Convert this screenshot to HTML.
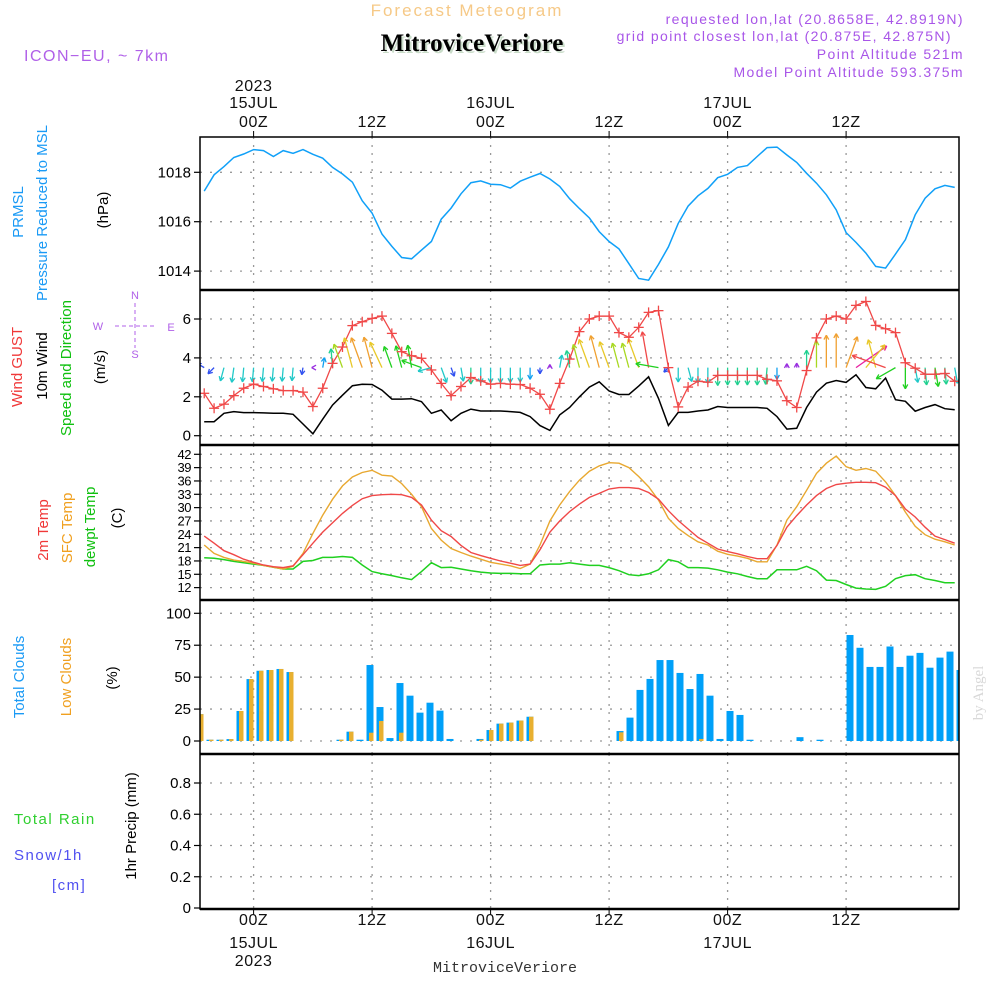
<!DOCTYPE html>
<html><head><meta charset="utf-8"><style>
html,body{margin:0;padding:0;background:#fff;}
svg{display:block;font-family:"Liberation Sans",sans-serif;}
</style></head><body>
<svg id="chart" width="1000" height="1000" viewBox="0 0 1000 1000" xmlns="http://www.w3.org/2000/svg">
<rect x="0" y="0" width="1000" height="1000" fill="#fff"/>
<text x="467" y="16" text-anchor="middle" font-size="17" letter-spacing="2" fill="#f6c987">Forecast Meteogram</text>
<text x="472" y="51" text-anchor="middle" font-size="25" font-weight="bold" font-family="Liberation Serif,serif" fill="#c9dcc9" transform="translate(2,2)">MitroviceVeriore</text>
<text x="472" y="51" text-anchor="middle" font-size="25" font-weight="bold" font-family="Liberation Serif,serif" fill="#000">MitroviceVeriore</text>
<text x="24" y="61" font-size="16" letter-spacing="1.5" fill="#b060e8">ICON−EU, ~ 7km</text>
<g font-size="14" letter-spacing="1.4" fill="#a855e8" text-anchor="end">
<text x="964" y="24">requested lon,lat (20.8658E, 42.8919N)</text>
<text x="952" y="41">grid point closest lon,lat (20.875E, 42.875N)</text>
<text x="964" y="59">Point Altitude 521m</text>
<text x="964" y="77">Model Point Altitude 593.375m</text>
</g>
<g font-size="15">
<text transform="translate(23,212) rotate(-90)" text-anchor="middle" fill="#1a9af5">PRMSL</text>
<text transform="translate(47,213) rotate(-90)" text-anchor="middle" fill="#1a9af5">Pressure Reduced to MSL</text>
<text transform="translate(108,210) rotate(-90)" text-anchor="middle" fill="#000">(hPa)</text>
<text transform="translate(22,367) rotate(-90)" text-anchor="middle" fill="#f03838">Wind GUST</text>
<text transform="translate(47,366) rotate(-90)" text-anchor="middle" fill="#000">10m Wind</text>
<text transform="translate(71,368) rotate(-90)" text-anchor="middle" fill="#10c010">Speed and Direction</text>
<text transform="translate(105,367) rotate(-90)" text-anchor="middle" fill="#000">(m/s)</text>
<text transform="translate(48,530) rotate(-90)" text-anchor="middle" fill="#f03838">2m Temp</text>
<text transform="translate(72,528) rotate(-90)" text-anchor="middle" fill="#f0a020">SFC Temp</text>
<text transform="translate(95,527) rotate(-90)" text-anchor="middle" fill="#10c010">dewpt Temp</text>
<text transform="translate(122,518) rotate(-90)" text-anchor="middle" fill="#000">(C)</text>
<text transform="translate(24,677) rotate(-90)" text-anchor="middle" fill="#1a9af5">Total Clouds</text>
<text transform="translate(71,677) rotate(-90)" text-anchor="middle" fill="#f0a020">Low Clouds</text>
<text transform="translate(117,678) rotate(-90)" text-anchor="middle" fill="#000">(%)</text>
<text transform="translate(136,826) rotate(-90)" text-anchor="middle" fill="#000">1hr Precip (mm)</text>
<text x="14" y="824" fill="#30d030" letter-spacing="1.5">Total  Rain</text>
<text x="14" y="860" fill="#5050f0" letter-spacing="1.5">Snow/1h</text>
<text x="52" y="890" fill="#5050f0" letter-spacing="1.5">[cm]</text>
</g>
<g fill="#b060e8" font-size="11" text-anchor="middle">
<text x="135" y="299">N</text>
<text x="98" y="330">W</text><text x="171" y="331">E</text>
<text x="135" y="358">S</text>
<line x1="135" y1="303" x2="135" y2="348" stroke="#b060e8" stroke-dasharray="4,3"/>
<line x1="115" y1="326" x2="155" y2="326" stroke="#b060e8" stroke-dasharray="4,3"/>
</g>
<text transform="translate(983,693) rotate(-90)" text-anchor="middle" font-family="Liberation Serif,serif" font-size="15" fill="#d8d8d8">by Angel</text>
<text x="505" y="972" text-anchor="middle" font-family="Liberation Mono,monospace" font-size="15" fill="#333">MitroviceVeriore</text>
<g id="plot"></g>
</svg>
<script>
// ---- data (hours relative to 00Z 15JUL 2023) ----
const hours = [];
for (let h = -5; h <= 71; h++) hours.push(h);
const pressure = [1017.24,1017.9,1018.23,1018.6,1018.74,1018.92,1018.88,1018.64,1018.88,1018.77,1018.92,1018.73,1018.57,1018.2,1017.93,1017.6,1016.85,1016.35,1015.5,1015.0,1014.55,1014.5,1014.85,1015.2,1016.1,1016.55,1017.13,1017.58,1017.65,1017.52,1017.5,1017.36,1017.64,1017.8,1017.95,1017.73,1017.43,1016.93,1016.53,1016.15,
1015.6,1015.2,1014.9,1014.3,1013.7,1013.63,1014.27,1014.98,1015.93,1016.63,1017.05,1017.35,1017.78,1017.92,1018.2,1018.27,1018.64,1019.0,1019.02,1018.7,1018.4,1017.96,1017.56,1017.09,1016.48,1015.56,1015.16,1014.73,1014.19,1014.12,1014.69,1015.27,1016.28,1016.95,1017.33,1017.47,1017.39];
const gust = [2.18,1.41,1.62,2.06,2.44,2.65,2.53,2.41,2.32,2.32,2.24,1.50,2.44,3.72,4.56,5.66,5.86,6.03,6.15,5.26,4.32,4.11,3.98,3.38,2.69,2.06,2.53,2.99,2.82,2.65,2.69,2.65,2.63,2.44,2.13,1.36,2.69,3.94,5.35,6.0,
6.15,6.15,5.3,5.06,5.57,6.34,6.43,3.5,1.48,2.5,2.8,2.75,3.1,3.1,3.1,3.1,3.1,2.9,2.82,1.8,1.45,3.35,5.03,6.0,6.15,6.0,6.7,6.9,5.67,5.5,5.3,3.75,3.47,3.16,3.16,3.2,2.8];
const windSpeed = [0.72,0.72,1.15,1.24,1.19,1.19,1.17,1.15,1.15,1.1,0.6,0.1,0.85,1.58,2.08,2.57,2.65,2.63,2.34,1.88,1.88,1.9,1.75,1.15,1.32,0.77,1.15,1.37,1.27,1.27,1.27,1.24,1.2,0.98,0.52,0.27,1.07,1.45,2.0,2.5,
2.77,2.3,2.12,2.12,2.55,3.03,1.92,0.53,1.2,1.2,1.27,1.32,1.5,1.45,1.45,1.45,1.45,1.41,0.98,0.34,0.38,1.45,2.24,2.7,2.84,2.74,3.13,2.48,2.41,2.96,1.85,1.77,1.26,1.45,1.6,1.39,1.33];
const windDir = [300,225,195,188,185,185,185,185,185,185,190,270,10,355,340,345,340,345,335,340,345,350,290,255,160,160,170,180,180,180,180,180,180,180,180,0,10,350,345,340,
345,340,345,345,340,350,280,225,180,165,180,180,180,180,180,180,180,185,180,0,0,0,0,0,0,20,55,40,345,290,240,180,170,175,170,175,170];
const temp2m = [23.6,22.0,20.3,19.4,18.4,17.7,17.1,16.7,16.5,16.9,19.4,22,24.5,26.6,28.7,30.5,32,32.7,32.9,33,32.9,32.3,30.6,27.2,24.8,23.5,21.5,19.9,19.2,18.6,18,17.5,17,17.3,20.5,24.5,27,29.1,30.8,32.3,
33.2,34.2,34.5,34.5,34.3,33.4,31.9,29.3,27.1,25.2,23.3,22,20.7,20.1,19.6,19,18.5,18.5,21.5,25.6,28.2,30.6,32.7,34.3,35.2,35.5,35.7,35.7,35.6,34.6,32.7,29.7,27.9,25.6,23.6,22.8,22];
const tempSfc = [21.6,19.7,18.8,18.2,17.9,17.5,17,16.6,16.2,16.8,19.7,24.2,28.3,31.9,34.9,36.9,37.9,38.4,37.3,37.1,35.4,33,30.2,25.3,22.7,20.8,19.9,19.1,18.4,17.7,17.3,16.9,16.3,17.3,21.6,27,30.6,33.6,36.2,38.2,
39.4,40.1,40,39,37,34.7,31.7,27.6,25.3,23.7,22.3,21.6,20.2,19.5,19.1,18.6,17.8,17.8,21.6,27.2,30.2,33.9,37.7,40,41.6,39.2,38.4,38.8,38.2,35.8,32.7,29,25.8,23.9,22.9,22.3,21.6];
const dewpt = [18.7,18.6,18.3,17.9,17.6,17.3,17,16.6,16.2,16.2,17.9,18.1,18.8,18.8,19,18.8,17.1,15.6,15.1,14.7,14.2,13.8,15.6,17.6,16.5,16.6,16.2,15.8,15.5,15.3,15.2,15.2,15.1,15.1,17.1,17.3,17.3,17.6,17.3,17,
17,16.5,15.8,14.9,14.7,15.1,16,18.3,17.8,16.5,16.5,16.4,16,15.5,15.1,14.5,14,14,16,16,16,16.8,15.8,13.7,13.6,12.7,11.9,11.7,11.6,12.3,14,14.7,14.9,14,13.6,13.1,13.1];
const cloudTotal = [21,1,1,1.5,23.5,48.5,55,55.6,56.4,54, 0,0,0,0,1,7.3,1,59.5,26.6,2.3, 45.4,35.5,22.2,30,23.8,1.6,0,0,1.6,8.6, 13.6,14.4,16,19,0,0,0,0,0,0,
0,0,7.8,18.3,40,48.6,63.4,63.4,53.3,40.7, 52.5,35.5,1.6,23.5,20.4,1,0,0,0,0, 3,0,1,0,0,83,73,58,58,74, 58,66.8,69,57.4,65.3,70,55.6];
const cloudLow = [21,1,1,1.5,23.5,48.5,55,55.6,56.4,54, 0,0,0,0,1,7.3,0,6.5,15.7,0, 6.5,0,0,0,0,0,0,0,1,8.6, 13.6,14.4,16,19,0,0,0,0,0,0,
0,0,6.8,0,0,0,0,0,0,0, 1.6,0,0,0,0,0,0,0,0,0, 0,0,0,0,0,0,0,0,0,0, 0,0,0,0,0,0,0];
const precip = hours.map(() => 0);
const pTicks = [1014,1016,1018];
const wTicks = [0,2,4,6];
const tTicks = [12,15,18,21,24,27,30,33,36,39,42];
const cTicks = [0,25,50,75,100];
const rTicks = [0,0.2,0.4,0.6,0.8];
const timeTicks = [0,12,24,36,48,60];
const timeLabels = ["00Z","12Z","00Z","12Z","00Z","12Z"];
const dayLabels = ["15JUL","","16JUL","","17JUL",""];

// ---- axis functions ----
const X0 = 200, X1 = 959;
const x = t => 253.6 + 9.875 * t;
const xb = t => 250 + 10 * t;
const yP = v => 172.3 - (v - 1018) * 24.7;
const yW = v => 435.7 - v * 19.45;
const yT = v => 454.3 + (42 - v) * 4.444;
const yC = v => 741 - v * 1.277;
const yR = v => 908 - v * 156.25;
const panels = [
  {name:'pressure', top:137, bot:290, ticks:pTicks, y:yP, fmt:v=>v, fs:15},
  {name:'wind', top:290, bot:445, ticks:wTicks, y:yW, fmt:v=>v, fs:15},
  {name:'temperature', top:445, bot:600, ticks:tTicks, y:yT, fmt:v=>v, fs:13},
  {name:'clouds', top:600, bot:754, ticks:cTicks, y:yC, fmt:v=>v, fs:15},
  {name:'precip', top:754, bot:909, ticks:rTicks, y:yR, fmt:v=>v===0?'0':v.toFixed(1), fs:15}
];
const NS = 'http://www.w3.org/2000/svg';
const plot = document.getElementById('plot');
function mk(tag, attrs, parent) {
  const e = document.createElementNS(NS, tag);
  for (const k in attrs) e.setAttribute(k, attrs[k]);
  (parent || plot).appendChild(e);
  return e;
}
function clipFor(p) {
  const c = mk('clipPath', {id: 'clip-' + p.name});
  mk('rect', {x: X0, y: p.top, width: X1 - X0, height: p.bot - p.top}, c);
  return 'url(#clip-' + p.name + ')';
}
// grids & ticks
panels.forEach(p => {
  const g = mk('g', {});
  
  
  timeTicks.forEach(t => {
    mk('line', {x1: x(t), x2: x(t), y1: p.top, y2: p.bot, stroke: '#999', 'stroke-width': 1.3, 'stroke-dasharray': '2,6'}, g);
  });
  p.ticks.forEach(v => {
    const yy = p.y(v);
    if (yy > p.top + 2 && yy < p.bot - 2)
      mk('line', {x1: X0, x2: X1, y1: yy, y2: yy, stroke: '#999', 'stroke-width': 1.3, 'stroke-dasharray': '2,8'}, g);
    mk('line', {x1: X0 - 6, x2: X0, y1: yy, y2: yy, stroke: '#000', 'stroke-width': 1.2}, g);
    const tx = mk('text', {x: X0 - 9, y: yy + (p.fs === 13 ? 4.5 : 5), 'text-anchor': 'end', 'font-size': p.fs, fill: '#000'}, g);
    if (p.fs === 13) tx.setAttribute('letter-spacing', '-0.5');
    tx.textContent = p.fmt(v);
  });
});
// time labels top & bottom
const tl = mk('g', {'font-size': 16, fill: '#111', 'text-anchor': 'middle', 'letter-spacing': '0.5'});


timeTicks.forEach((t, i) => {
  mk('line', {x1: x(t), x2: x(t), y1: 131, y2: 137, stroke: '#000'}, tl);
  mk('line', {x1: x(t), x2: x(t), y1: 909, y2: 915, stroke: '#000'}, tl);
  mk('text', {x: x(t), y: 127}, tl).textContent = timeLabels[i];
  mk('text', {x: x(t), y: 925}, tl).textContent = timeLabels[i];
  if (dayLabels[i]) {
    mk('text', {x: x(t), y: 108}, tl).textContent = dayLabels[i];
    mk('text', {x: x(t), y: 948}, tl).textContent = dayLabels[i];
  }
});
mk('text', {x: x(0), y: 91}, tl).textContent = '2023';
mk('text', {x: x(0), y: 966}, tl).textContent = '2023';

function poly(vals, yf, color, name, clip, w) {
  const pts = vals.map((v, i) => x(hours[i]).toFixed(1) + ',' + yf(v).toFixed(1)).join(' ');
  const e = mk('polyline', {points: pts, fill: 'none', stroke: color, 'stroke-width': w || 1.4, 'clip-path': clip});
  
  
  return e;
}
// pressure
poly(pressure, yP, '#10a0f8', 'pressure-line', clipFor(panels[0]), 1.5);
// wind panel
const cw = clipFor(panels[1]);
poly(windSpeed, yW, '#000', 'wind-speed-line', cw, 1.5);
poly(gust, yW, '#f04848', 'wind-gust-line', cw, 1.3);
function speedColor(s) {
  if (s < 0.4) return '#9a30e0';
  if (s < 0.8) return '#3050f0';
  if (s < 1.0) return '#10a0f0';
  if (s < 1.35) return '#20c8c8';
  if (s < 1.6) return '#20d090';
  if (s < 1.95) return '#20d020';
  if (s < 2.3) return '#a8d820';
  if (s < 2.6) return '#e8c828';
  if (s < 2.85) return '#f0a030';
  if (s < 3.05) return '#f04848';
  return '#e820a0';
}
const arrows = mk('g', {'clip-path': cw});


windDir.forEach((d, i) => {
  const bx = x(hours[i]), by = yW(3.5);
  const len = 12 * windSpeed[i];
  const a = d * Math.PI / 180;
  const ex = bx + len * Math.sin(a), ey = by - len * Math.cos(a);
  const col = speedColor(windSpeed[i]);
  const g = mk('g', {stroke: col, 'stroke-width': 1.3, fill: 'none'}, arrows);
  
  
  mk('line', {x1: bx, y1: by, x2: ex, y2: ey}, g);
  const h = 5;
  [a + Math.PI - 0.5, a + Math.PI + 0.5].forEach(b => {
    mk('line', {x1: ex, y1: ey, x2: ex + h * Math.sin(b), y2: ey - h * Math.cos(b)}, g);
  });
});
const marks = mk('g', {stroke: '#f04848', 'stroke-width': 1.3, 'clip-path': cw});


gust.forEach((v, i) => {
  const px = x(hours[i]), py = yW(v);
  mk('line', {x1: px - 5, x2: px + 5, y1: py, y2: py}, marks);
  mk('line', {x1: px, x2: px, y1: py - 5, y2: py + 5}, marks);
});
// temperature
const ct = clipFor(panels[2]);
poly(dewpt, yT, '#20d020', 'dewpoint-line', ct, 1.5);
poly(tempSfc, yT, '#e8a830', 'sfc-temp-line', ct, 1.4);
poly(temp2m, yT, '#f04848', 'temp-2m-line', ct, 1.4);
// clouds
const cc = clipFor(panels[3]);
const cg = mk('g', {'clip-path': cc});


cloudTotal.forEach((v, i) => {
  const bx = xb(hours[i]);
  if (v > 0) {
    const r = mk('rect', {x: bx - 3.5, y: yC(v), width: 7, height: yC(0) - yC(v), fill: '#00a0f8'}, cg);
    
    
  }
  const lv = cloudLow[i];
  if (lv > 0) {
    const r2 = mk('rect', {x: bx - 1, y: yC(lv), width: 4.5, height: yC(0) - yC(lv), fill: '#e8b030'}, cg);
    
    
  }
});
// precip (all zero)
const cr = clipFor(panels[4]);
const pg = mk('g', {'clip-path': cr});


precip.forEach((v, i) => {
  if (v > 0) mk('rect', {x: xb(hours[i]) - 3.5, y: yR(v), width: 7, height: yR(0) - yR(v), fill: '#30d030'}, pg);
});
// frame
const fr = mk('g', {stroke: '#000', fill: 'none'});


mk('rect', {x: X0, y: 137, width: X1 - X0, height: 909 - 137, 'stroke-width': 1.5}, fr);
[290, 445, 600, 754].forEach(yy => mk('line', {x1: X0, x2: X1, y1: yy, y2: yy, 'stroke-width': 2.5}, fr));
mk('line', {x1: X0, x2: X1, y1: 909, y2: 909, 'stroke-width': 2.5}, fr);
</script>
</body></html>
